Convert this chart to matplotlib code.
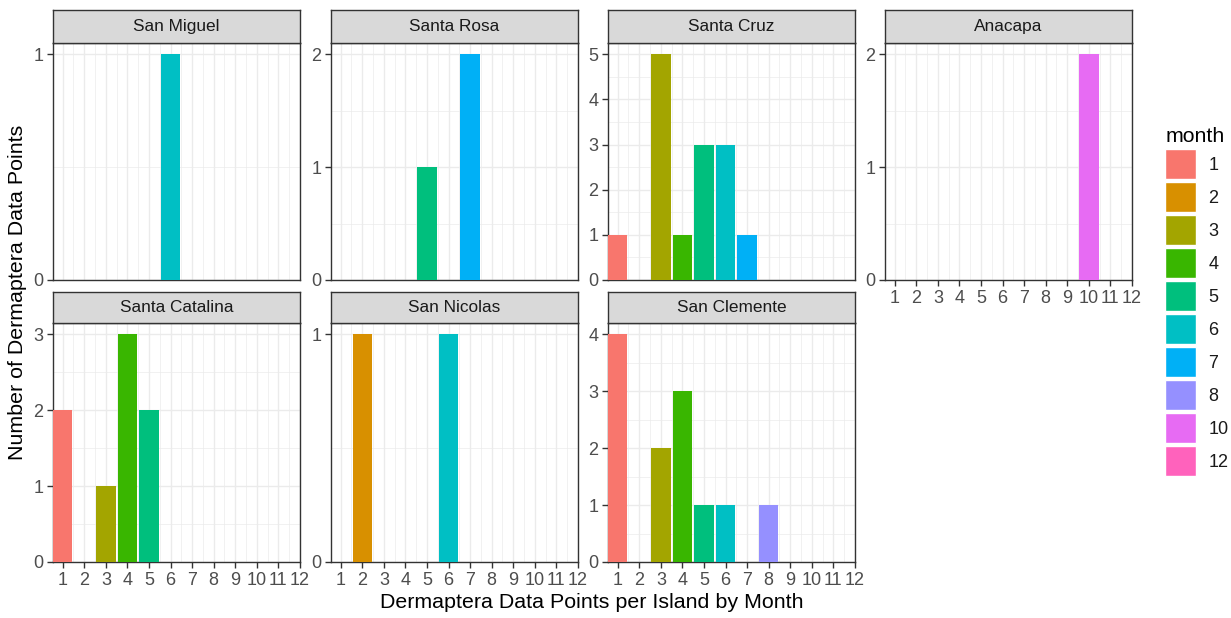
import matplotlib.pyplot as plt
from matplotlib.patches import Patch
from matplotlib.ticker import MultipleLocator

plt.rcParams['font.family'] = ['Liberation Sans', 'DejaVu Sans']

# data: months with records and counts for each island
islands = ["San Miguel", "Santa Rosa", "Santa Cruz", "Anacapa",
           "Santa Catalina", "San Nicolas", "San Clemente"]

san_miguel_months = [6]
san_miguel_counts = [1]
santa_rosa_months = [5, 7]
santa_rosa_counts = [1, 2]
santa_cruz_months = [1, 3, 4, 5, 6, 7]
santa_cruz_counts = [1, 5, 1, 3, 3, 1]
anacapa_months = [10]
anacapa_counts = [2]
santa_catalina_months = [1, 3, 4, 5]
santa_catalina_counts = [2, 1, 3, 2]
san_nicolas_months = [2, 6]
san_nicolas_counts = [1, 1]
san_clemente_months = [1, 3, 4, 5, 6, 8]
san_clemente_counts = [4, 2, 3, 1, 1, 1]

month_levels = [1, 2, 3, 4, 5, 6, 7, 8, 10, 12]
month_colors = ["#F8766D", "#D89000", "#A3A500", "#39B600", "#00BF7D",
                "#00BFC4", "#00B0F6", "#9590FF", "#E76BF3", "#FF62BC"]
x_ticks = list(range(1, 13))

series = [
    (san_miguel_months, san_miguel_counts),
    (santa_rosa_months, santa_rosa_counts),
    (santa_cruz_months, santa_cruz_counts),
    (anacapa_months, anacapa_counts),
    (santa_catalina_months, santa_catalina_counts),
    (san_nicolas_months, san_nicolas_counts),
    (san_clemente_months, san_clemente_counts),
]

W, H = 1231, 618
fig = plt.figure(figsize=(W / 100, H / 100), dpi=100)

col_left = [53, 331, 608, 885]
panel_w = 247
rows = [(10, 43, 280), (292, 323, 562)]  # strip top, panel top, panel bottom

dark = "#333333"
tick_col = "#4D4D4D"
grid_col = "#EBEBEB"
color_of = dict(zip(month_levels, month_colors))


def px_axes(l, t, w, h):
    return fig.add_axes([l / W, 1 - (t + h) / H, w / W, h / H])


for i, (name, (months, counts)) in enumerate(zip(islands, series)):
    r, c = divmod(i, 4)
    s_top, p_top, p_bot = rows[r]
    ax = px_axes(col_left[c], p_top, panel_w, p_bot - p_top)
    ax.bar(months, counts, width=0.9, color=[color_of[m] for m in months], zorder=3)
    ymax = max(counts)
    ax.set_xlim(0.55, 12.0)
    ax.set_ylim(0, ymax * 1.05)
    ax.set_xticks(x_ticks)
    ax.xaxis.set_minor_locator(MultipleLocator(0.5))
    ax.set_yticks(range(0, ymax + 1))
    ax.yaxis.set_minor_locator(MultipleLocator(0.5))
    ax.grid(which="major", color=grid_col, linewidth=1.0, zorder=0)
    ax.grid(which="minor", color=grid_col, linewidth=0.5, zorder=0)
    ax.set_axisbelow(True)
    for sp in ax.spines.values():
        sp.set_color(dark)
        sp.set_linewidth(1.0)
    ax.tick_params(which="major", length=4, width=1, color=dark,
                   labelsize=13, labelcolor=tick_col, pad=3)
    ax.tick_params(which="minor", length=0)
    if r == 0 and c != 3:
        ax.tick_params(axis="x", which="major", length=0, labelbottom=False)

    # facet strip
    sax = px_axes(col_left[c], s_top, panel_w, p_top - s_top)
    sax.set_facecolor("#D9D9D9")
    sax.set_xticks([])
    sax.set_yticks([])
    for sp in sax.spines.values():
        sp.set_color(dark)
        sp.set_linewidth(1.0)
    sax.text(0.5, 0.5, name, ha="center", va="center", fontsize=12.4,
             color="#1A1A1A", transform=sax.transAxes)

fig.text(592 / W, 1 - 603 / H, "Dermaptera Data Points per Island by Month",
         ha="center", va="center", fontsize=15.4, color="black")
fig.text(18 / W, 1 - 292 / H, "Number of Dermaptera Data Points",
         ha="center", va="center", rotation=90, fontsize=15.4, color="black")

handles = [Patch(facecolor=col, edgecolor="white", linewidth=1) for col in month_colors]
leg = fig.legend(handles, [str(m) for m in month_levels], title="month",
                 loc="upper left", bbox_to_anchor=(1160 / W, 1 - 122 / H),
                 frameon=False, fontsize=13, title_fontsize=15.3,
                 handlelength=1.72, handleheight=2.18, labelspacing=0.166,
                 handletextpad=0.66, alignment="left", borderaxespad=0,
                 borderpad=0.3)
for t in leg.get_texts():
    t.set_color("#1A1A1A")

fig.savefig("out.png", dpi=100)
